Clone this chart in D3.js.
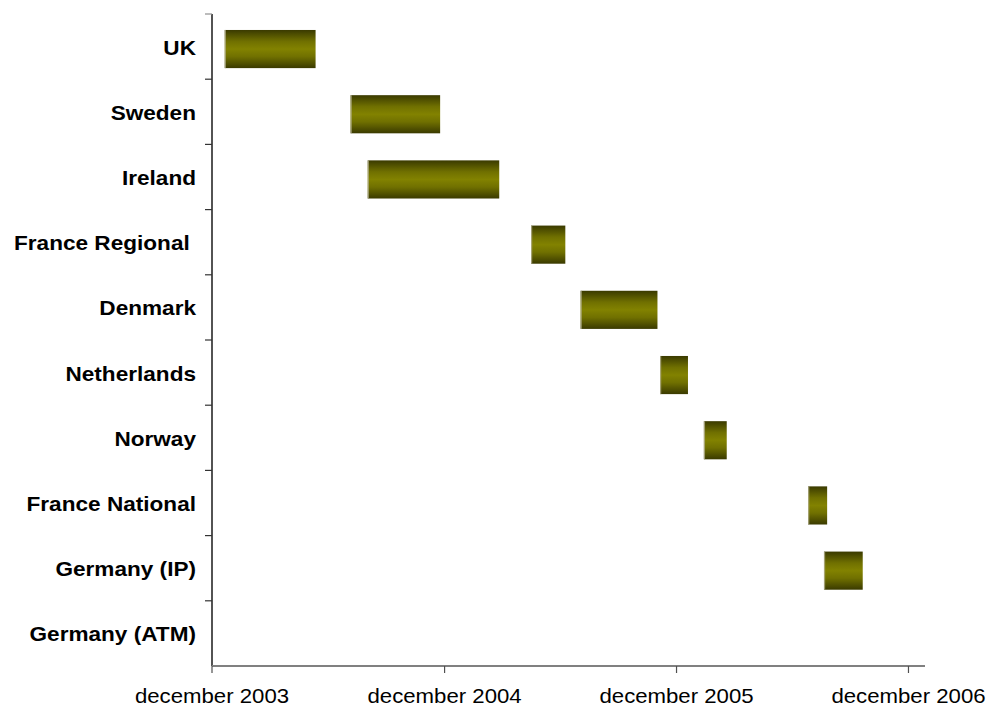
<!DOCTYPE html>
<html>
<head>
<meta charset="utf-8">
<script src="https://cdn.jsdelivr.net/npm/d3@7"></script>
<style>
  html, body { margin: 0; padding: 0; background: #ffffff; }
  svg { display: block; }
  text { font-family: "Liberation Sans", Arial, sans-serif; white-space: pre; }
</style>
</head>
<body>
<svg id="chart" width="988" height="709"></svg>
<script>
// Rollout schedule per country
const countries = ["UK", "Sweden", "Ireland", "France Regional ", "Denmark", "Netherlands",
                   "Norway", "France National", "Germany (IP)", "Germany (ATM)"];
const startDates = ["2003-12-21", "2004-07-06", "2004-08-02", "2005-04-16", "2005-07-03",
                    "2005-11-05", "2006-01-13", "2006-06-26", "2006-07-21", null];
const endDates   = ["2004-05-12", "2004-11-24", "2005-02-25", "2005-06-09", "2005-11-01",
                    "2005-12-19", "2006-02-18", "2006-07-26", "2006-09-20", null];
const tickDates  = ["2003-12-01", "2004-12-01", "2005-12-01", "2006-12-01"];
const tickLabels = ["december 2003", "december 2004", "december 2005", "december 2006"];

const parse = d3.timeParse("%Y-%m-%d");
const rows = countries.map((c, i) => ({
  name: c,
  start: startDates[i] ? parse(startDates[i]) : null,
  end: endDates[i] ? parse(endDates[i]) : null
}));

const svg = d3.select("#chart");
const plotLeft = 212, plotRight = 925, plotTop = 14, plotBottom = 666;

const x = d3.scaleTime()
  .domain([parse("2003-12-01"), parse("2006-12-27")])
  .range([plotLeft, plotRight]);

const y = d3.scaleBand()
  .domain(countries)
  .range([plotTop, plotBottom]);

// Bar gradient: dark edges, bright olive in the middle
const defs = svg.append("defs");
const grad = defs.append("linearGradient")
  .attr("id", "barFill").attr("x1", 0).attr("y1", 0).attr("x2", 0).attr("y2", 1);
[[0, "#3a3a00"], [0.3, "#707000"], [0.5, "#828200"], [0.7, "#707000"], [1, "#3a3a00"]]
  .forEach(([o, c]) => grad.append("stop").attr("offset", o).attr("stop-color", c));

// Bars
const bw = y.bandwidth();
const barTop = bw * 0.245, barH = bw * 0.585;
const bars = svg.append("g").selectAll("g")
  .data(rows.filter(d => d.start))
  .join("g");
bars.append("rect")
  .attr("x", d => x(d.start))
  .attr("y", d => y(d.name) + barTop)
  .attr("width", d => x(d.end) - x(d.start))
  .attr("height", barH)
  .attr("fill", "url(#barFill)");
bars.append("rect")
  .attr("x", d => x(d.start))
  .attr("y", d => y(d.name) + barTop)
  .attr("width", 1.2)
  .attr("height", barH)
  .attr("fill", "#b4b090")
  .attr("opacity", 0.8);

// Y axis: line, boundary ticks and category labels
const yAxis = svg.append("g");
yAxis.append("line")
  .attr("x1", plotLeft).attr("x2", plotLeft).attr("y1", plotTop).attr("y2", plotBottom)
  .attr("stroke", "#1a1a1a").attr("stroke-width", 1.5);
const bounds = countries.map(c => y(c));
yAxis.selectAll("line.tick")
  .data(bounds)
  .join("line")
  .attr("class", "tick")
  .attr("x1", plotLeft - 7).attr("x2", plotLeft)
  .attr("y1", d => d).attr("y2", d => d)
  .attr("stroke", d => d === plotTop ? "#909090" : "#333333").attr("stroke-width", 1.2);
yAxis.selectAll("text")
  .data(countries)
  .join("text")
  .attr("transform", d => `translate(${plotLeft - 16},${y(d) + bw / 2 + 8}) scale(1.13,1)`)
  .attr("text-anchor", "end")
  .attr("font-size", 20)
  .attr("font-weight", "bold")
  .attr("fill", "#000")
  .text(d => d);

// X axis: grey baseline, ticks below, centred month labels
const xAxis = svg.append("g");
xAxis.append("line")
  .attr("x1", plotLeft).attr("x2", plotRight).attr("y1", plotBottom).attr("y2", plotBottom)
  .attr("stroke", "#808080").attr("stroke-width", 2);
const ticks = tickDates.map(parse);
xAxis.selectAll("line.tick")
  .data(ticks)
  .join("line")
  .attr("class", "tick")
  .attr("x1", d => x(d)).attr("x2", d => x(d))
  .attr("y1", plotBottom).attr("y2", plotBottom + 7)
  .attr("stroke", "#505050").attr("stroke-width", 1.2);
xAxis.selectAll("text")
  .data(ticks)
  .join("text")
  .attr("transform", d => `translate(${x(d)},703) scale(1.11,1)`)
  .attr("text-anchor", "middle")
  .attr("font-size", 20)
  .attr("fill", "#000")
  .text((d, i) => tickLabels[i]);
</script>
</body>
</html>
